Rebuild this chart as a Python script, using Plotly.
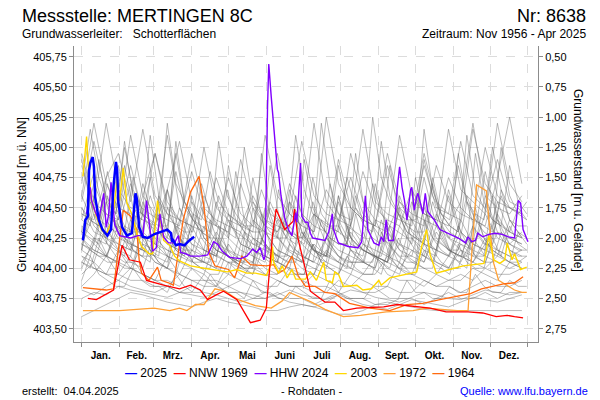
import plotly.graph_objects as go

# ---------------- data (day of year, water level m ü. NN) ----------------
MONTHS = ["Jan.", "Feb.", "Mrz.", "Apr.", "Mai", "Juni", "Juli", "Aug.", "Sept.", "Okt.", "Nov.", "Dez."]
MONTH_START = [0, 31, 59, 90, 120, 151, 181, 212, 243, 273, 304, 334, 365]
MONTH_MID = [15.5, 45, 74.5, 105, 135.5, 166, 196.5, 227.5, 258, 288.5, 319, 349.5]
GROUND = 406.25  # ground level, m ü. NN
Y_TICKS = [403.50, 403.75, 404.00, 404.25, 404.50, 404.75, 405.00, 405.25, 405.50, 405.75]
Y2_TICKS = [0.50, 0.75, 1.00, 1.25, 1.50, 1.75, 2.00, 2.25, 2.50, 2.75]

gray_days = [0, 10, 20, 30, 40, 50, 60, 70, 80, 90, 100, 110, 120, 130, 140, 150, 160, 170, 180,
             190, 200, 210, 220, 230, 240, 250, 260, 270, 280, 290, 300, 310, 320, 330, 340, 350, 360]

gray_years = [
    [404.55, 405.05, 404.60, 404.40, 404.85, 404.45, 404.35, 405.10, 404.50, 404.30, 404.60, 404.35, 404.25, 404.70, 404.40, 404.30, 404.95, 404.45, 404.35, 405.20, 404.55, 404.40, 404.75, 404.45, 404.35, 404.85, 404.50, 404.40, 404.95, 404.55, 404.45, 405.05, 404.60, 404.50, 404.90, 404.55, 404.50],
    [404.85, 404.50, 405.20, 404.65, 404.50, 404.45, 404.95, 404.55, 404.40, 404.35, 405.00, 404.50, 404.40, 404.35, 404.60, 404.40, 404.30, 404.45, 405.05, 404.60, 404.45, 404.40, 404.35, 404.80, 404.50, 404.40, 404.35, 404.65, 404.45, 404.40, 405.15, 404.65, 404.55, 404.45, 405.20, 404.70, 404.55],
    [404.45, 404.40, 404.75, 404.95, 404.55, 405.15, 404.60, 404.45, 404.40, 404.80, 404.45, 404.35, 404.30, 404.90, 404.50, 404.35, 404.30, 404.55, 404.40, 404.30, 405.25, 404.70, 404.50, 404.40, 404.35, 404.95, 404.55, 404.45, 404.40, 404.35, 404.75, 404.50, 404.40, 405.00, 404.60, 404.50, 404.45],
    [404.30, 404.70, 404.45, 404.35, 404.30, 404.60, 404.95, 404.50, 404.40, 404.35, 404.30, 404.75, 404.45, 404.35, 404.30, 405.10, 404.60, 404.45, 404.35, 404.30, 404.65, 404.45, 404.40, 405.15, 404.55, 404.45, 404.40, 404.35, 404.85, 404.50, 404.45, 404.40, 405.15, 404.70, 404.55, 404.50, 404.45],
    [404.60, 405.20, 404.70, 404.50, 404.45, 404.40, 404.35, 404.65, 405.05, 404.55, 404.40, 404.35, 404.75, 404.45, 404.35, 404.30, 404.25, 404.70, 404.45, 404.35, 404.30, 404.90, 404.50, 404.40, 404.35, 404.30, 404.55, 404.40, 404.35, 404.85, 404.55, 404.45, 404.40, 404.35, 404.75, 405.25, 404.70],
    [404.95, 404.55, 404.45, 404.40, 405.10, 404.60, 404.45, 404.40, 404.35, 404.95, 404.50, 404.40, 404.35, 404.30, 404.55, 404.40, 404.35, 404.30, 404.25, 404.45, 404.35, 404.30, 404.95, 404.55, 404.40, 404.35, 405.10, 404.60, 404.45, 404.40, 404.35, 404.55, 405.20, 404.60, 404.50, 404.45, 404.60],
    [404.20, 404.45, 404.25, 404.15, 404.10, 404.55, 404.25, 404.15, 404.10, 404.05, 404.35, 404.15, 404.10, 404.05, 404.05, 404.30, 404.15, 404.10, 404.05, 404.45, 404.20, 404.10, 404.05, 404.05, 404.40, 404.20, 404.10, 404.10, 404.05, 404.30, 404.15, 404.10, 404.35, 404.20, 404.15, 404.10, 404.15],
    [404.35, 404.25, 404.20, 404.65, 404.30, 404.20, 404.15, 404.10, 404.50, 404.25, 404.15, 404.10, 404.45, 404.20, 404.15, 404.10, 404.05, 404.35, 404.20, 404.10, 404.05, 404.60, 404.25, 404.15, 404.10, 404.05, 404.20, 404.55, 404.25, 404.15, 404.10, 404.40, 404.20, 404.15, 404.55, 404.30, 404.25],
    [404.10, 404.05, 404.35, 404.15, 404.05, 404.00, 404.30, 404.10, 404.05, 404.00, 403.95, 404.25, 404.10, 404.00, 403.95, 404.20, 404.05, 404.00, 403.95, 403.95, 404.15, 404.05, 404.00, 404.30, 404.10, 404.00, 403.95, 404.25, 404.10, 404.05, 404.00, 404.20, 404.10, 404.05, 404.30, 404.15, 404.10],
    [404.50, 404.30, 404.25, 404.20, 404.15, 404.70, 404.35, 404.20, 404.15, 404.10, 404.05, 404.55, 404.25, 404.15, 404.10, 404.05, 404.40, 404.20, 404.10, 404.05, 404.00, 404.35, 404.15, 404.10, 404.70, 404.30, 404.20, 404.15, 404.10, 404.45, 404.25, 404.15, 404.10, 404.60, 404.30, 404.25, 404.20],
    [404.15, 404.60, 404.30, 404.20, 404.15, 404.10, 404.45, 404.20, 404.15, 404.60, 404.25, 404.15, 404.10, 404.05, 404.40, 404.20, 404.10, 404.65, 404.30, 404.15, 404.10, 404.05, 404.30, 404.15, 404.10, 404.05, 404.50, 404.25, 404.15, 404.10, 404.65, 404.30, 404.20, 404.15, 404.10, 404.40, 404.25],
    [404.25, 404.15, 404.10, 404.30, 404.15, 404.45, 404.20, 404.10, 404.05, 404.35, 404.15, 404.10, 404.05, 404.00, 404.25, 404.10, 404.05, 404.00, 404.40, 404.15, 404.05, 404.00, 403.95, 404.20, 404.10, 404.05, 404.00, 404.15, 404.05, 404.35, 404.15, 404.10, 404.05, 404.25, 404.15, 404.10, 404.05],
    [404.40, 404.80, 404.40, 404.25, 404.20, 404.15, 404.10, 404.50, 404.25, 404.15, 404.10, 404.05, 404.85, 404.35, 404.20, 404.15, 404.10, 404.05, 404.30, 404.15, 404.10, 404.55, 404.25, 404.15, 404.10, 404.05, 404.35, 404.20, 404.75, 404.35, 404.25, 404.20, 404.15, 404.45, 404.25, 404.20, 404.30],
    [404.05, 404.20, 404.10, 404.05, 404.40, 404.15, 404.05, 404.00, 404.25, 404.10, 404.05, 404.00, 403.95, 404.30, 404.10, 404.00, 403.95, 404.20, 404.05, 404.00, 403.95, 403.95, 404.15, 404.05, 404.00, 404.35, 404.15, 404.05, 404.00, 403.95, 404.10, 404.05, 404.25, 404.10, 404.05, 404.00, 404.05],
    [404.30, 404.20, 404.55, 404.30, 404.20, 404.15, 404.10, 404.05, 404.40, 404.20, 404.10, 404.30, 404.15, 404.10, 404.05, 404.50, 404.25, 404.15, 404.10, 404.05, 404.25, 404.15, 404.10, 404.05, 404.00, 404.30, 404.15, 404.10, 404.50, 404.25, 404.15, 404.10, 404.05, 404.20, 404.45, 404.25, 404.20],
    [404.60, 404.35, 404.25, 404.85, 404.40, 404.25, 404.20, 404.65, 404.30, 404.20, 404.15, 404.10, 404.40, 404.20, 404.15, 404.10, 404.05, 404.55, 404.25, 404.15, 404.10, 404.40, 404.20, 404.15, 404.10, 404.05, 404.60, 404.30, 404.20, 404.15, 404.10, 404.30, 404.20, 404.80, 404.40, 404.30, 404.25],
    [404.00, 404.25, 404.10, 404.05, 404.00, 404.20, 404.05, 404.00, 403.95, 404.15, 404.05, 404.00, 404.20, 404.05, 404.00, 403.95, 403.95, 404.10, 404.00, 403.95, 404.25, 404.10, 404.00, 403.95, 403.95, 404.10, 404.00, 403.95, 404.20, 404.05, 404.00, 404.15, 404.05, 404.00, 404.10, 404.05, 404.00],
    [404.20, 404.15, 404.10, 404.35, 404.70, 404.30, 404.20, 404.15, 404.10, 404.55, 404.25, 404.15, 404.10, 404.05, 404.75, 404.30, 404.15, 404.10, 404.05, 404.20, 404.10, 404.85, 404.35, 404.20, 404.15, 404.10, 404.05, 404.40, 404.20, 404.15, 404.60, 404.25, 404.15, 404.10, 404.40, 404.20, 404.15],
    [403.95, 404.05, 403.95, 403.90, 404.00, 403.95, 403.90, 403.85, 403.95, 403.90, 403.85, 403.85, 403.95, 403.90, 403.85, 403.80, 403.90, 403.85, 403.85, 403.80, 403.80, 403.90, 403.85, 403.80, 403.80, 403.85, 403.80, 403.80, 403.90, 403.85, 403.85, 403.80, 403.85, 403.90, 403.85, 403.85, 403.90],
    [404.05, 404.00, 403.95, 404.15, 404.00, 403.95, 403.90, 404.10, 403.95, 403.90, 403.90, 403.85, 404.05, 403.95, 403.90, 403.85, 403.85, 404.00, 403.90, 403.85, 403.85, 403.80, 403.95, 403.90, 403.85, 403.85, 404.05, 403.95, 403.90, 403.85, 403.90, 403.95, 403.90, 404.00, 403.95, 403.95, 404.00],
    [403.85, 403.95, 404.10, 403.95, 403.90, 403.90, 403.85, 403.85, 403.80, 403.80, 403.95, 403.85, 403.80, 403.80, 403.75, 403.75, 403.80, 403.75, 403.75, 403.70, 403.75, 403.80, 403.75, 403.75, 403.70, 403.70, 403.75, 403.75, 403.70, 403.75, 403.80, 403.75, 403.75, 403.80, 403.75, 403.80, 403.80],
    [404.10, 404.00, 403.95, 403.95, 404.10, 403.95, 403.90, 403.90, 403.85, 404.00, 403.90, 403.90, 403.85, 403.90, 404.05, 403.95, 403.90, 403.85, 403.85, 403.95, 403.90, 403.85, 403.85, 403.95, 404.10, 403.95, 403.90, 403.90, 403.85, 403.95, 403.90, 403.90, 404.00, 403.95, 403.90, 404.05, 404.00],
    [403.60, 403.65, 403.70, 403.75, 403.80, 403.78, 403.75, 403.72, 403.70, 403.68, 403.72, 403.75, 403.72, 403.70, 403.68, 403.65, 403.65, 403.68, 403.70, 403.68, 403.65, 403.62, 403.62, 403.65, 403.70, 403.72, 403.70, 403.68, 403.66, 403.65, 403.65, 403.65, 403.65, 403.65, 403.65, 403.65, 403.65],
    [403.75, 403.80, 403.78, 403.85, 403.82, 403.80, 403.78, 403.76, 403.80, 403.85, 403.80, 403.78, 403.75, 403.72, 403.75, 403.80, 403.76, 403.72, 403.70, 403.68, 403.72, 403.78, 403.74, 403.70, 403.68, 403.66, 403.70, 403.74, 403.72, 403.70, 403.68, 403.72, 403.76, 403.74, 403.72, 403.75, 403.78],
    [403.82, 403.78, 403.85, 403.90, 403.85, 403.82, 403.80, 403.85, 403.80, 403.78, 403.76, 403.80, 403.85, 403.80, 403.78, 403.75, 403.78, 403.82, 403.78, 403.76, 403.74, 403.78, 403.82, 403.80, 403.76, 403.74, 403.72, 403.76, 403.80, 403.78, 403.75, 403.74, 403.78, 403.82, 403.80, 403.78, 403.80],
]

gray_week_days = [0, 7, 14, 21, 28, 35, 42, 49, 56, 63, 70, 77, 84, 91, 98, 105, 112, 119, 126, 133, 140, 147, 154, 161, 168, 175,
                  182, 189, 196, 203, 210, 217, 224, 231, 238, 245, 252, 259, 266, 273, 280, 287, 294, 301, 308, 315, 322, 329, 336, 343, 350, 357, 364]

gray_weekly_years = [
    [404.40, 404.35, 404.90, 404.50, 404.35, 404.30, 404.75, 404.45, 404.35, 404.30, 404.25, 405.05, 404.55, 404.40, 404.30, 404.25, 404.60, 404.40, 404.30, 404.25, 404.20, 404.20, 404.85, 404.45, 404.30, 404.25, 404.20, 404.55, 404.35, 404.25, 404.20, 404.20, 404.95, 404.50, 404.35, 404.25, 404.20, 404.45, 404.30, 404.25, 404.20, 404.70, 404.40, 404.30, 404.25, 404.20, 404.95, 404.55, 404.40, 404.35, 404.30, 404.50, 404.40],
    [404.15, 404.55, 404.30, 404.20, 404.15, 404.10, 404.45, 404.25, 404.15, 404.10, 404.65, 404.30, 404.20, 404.10, 404.05, 404.05, 404.35, 404.15, 404.10, 404.05, 404.50, 404.25, 404.15, 404.10, 404.05, 404.05, 404.30, 404.15, 404.10, 404.70, 404.35, 404.20, 404.10, 404.05, 404.05, 404.40, 404.20, 404.10, 404.05, 404.05, 404.55, 404.25, 404.15, 404.10, 404.35, 404.20, 404.10, 404.10, 404.60, 404.30, 404.20, 404.15, 404.15],
    [404.70, 405.15, 404.75, 404.55, 404.45, 405.00, 404.65, 404.50, 404.45, 404.40, 405.20, 404.70, 404.55, 404.45, 404.40, 404.80, 404.55, 404.45, 404.40, 404.35, 404.35, 404.65, 404.45, 404.40, 404.35, 405.10, 404.65, 404.45, 404.40, 404.35, 404.35, 404.75, 404.50, 404.40, 405.25, 404.75, 404.55, 404.45, 404.40, 404.40, 404.90, 404.60, 404.45, 404.40, 404.85, 404.55, 404.45, 404.40, 405.00, 404.65, 404.50, 404.45, 404.55],
    [404.30, 404.25, 404.20, 404.60, 404.35, 404.25, 404.20, 404.15, 404.75, 404.40, 404.25, 404.20, 404.15, 404.15, 404.50, 404.30, 404.20, 404.15, 404.80, 404.40, 404.25, 404.20, 404.15, 404.10, 404.10, 404.45, 404.25, 404.15, 404.10, 404.10, 404.60, 404.30, 404.20, 404.15, 404.10, 404.10, 404.35, 404.20, 404.15, 404.75, 404.40, 404.25, 404.20, 404.15, 404.15, 404.55, 404.30, 404.20, 404.20, 404.65, 404.40, 404.30, 404.25],
    [404.05, 404.00, 404.25, 404.10, 404.05, 404.00, 404.00, 404.30, 404.15, 404.05, 404.00, 403.95, 404.20, 404.05, 404.00, 403.95, 403.95, 404.15, 404.05, 404.00, 403.95, 404.25, 404.10, 404.00, 403.95, 403.95, 403.95, 404.20, 404.05, 404.00, 403.95, 404.10, 404.00, 403.95, 403.95, 404.30, 404.10, 404.00, 403.95, 403.95, 404.15, 404.05, 404.00, 403.95, 404.20, 404.05, 404.00, 404.00, 404.25, 404.10, 404.05, 404.05, 404.10],
    [404.90, 404.55, 404.40, 404.35, 404.30, 404.85, 404.50, 404.40, 405.10, 404.60, 404.45, 404.35, 404.30, 404.30, 404.70, 404.45, 404.35, 404.30, 404.25, 405.00, 404.55, 404.40, 404.30, 404.25, 404.25, 404.60, 404.40, 404.30, 405.20, 404.70, 404.45, 404.35, 404.30, 404.25, 404.70, 404.45, 404.35, 404.30, 404.25, 404.25, 405.15, 404.65, 404.45, 404.35, 404.30, 404.60, 404.40, 404.35, 404.30, 405.00, 404.60, 404.45, 404.40],
    [404.20, 404.15, 404.10, 404.10, 404.40, 404.25, 404.15, 404.10, 404.10, 404.55, 404.30, 404.15, 404.10, 404.45, 404.25, 404.15, 404.10, 404.05, 404.05, 404.30, 404.15, 404.10, 404.05, 404.65, 404.30, 404.15, 404.10, 404.05, 404.40, 404.20, 404.10, 404.05, 404.05, 404.05, 404.35, 404.15, 404.10, 404.50, 404.25, 404.15, 404.10, 404.05, 404.30, 404.15, 404.10, 404.10, 404.45, 404.25, 404.15, 404.10, 404.35, 404.20, 404.15],
    [404.50, 404.40, 404.35, 404.80, 404.50, 404.35, 404.30, 404.30, 404.60, 404.40, 404.30, 404.95, 404.55, 404.40, 404.30, 404.25, 404.25, 404.65, 404.40, 404.30, 404.25, 404.20, 404.50, 404.35, 404.25, 404.20, 404.90, 404.50, 404.35, 404.25, 404.20, 404.20, 404.60, 404.35, 404.25, 404.20, 404.85, 404.45, 404.30, 404.25, 404.20, 404.55, 404.35, 404.25, 404.95, 404.55, 404.40, 404.30, 404.25, 404.60, 404.40, 404.35, 404.35],
    [403.90, 404.10, 403.95, 403.90, 403.85, 403.85, 404.00, 403.90, 403.85, 403.85, 403.80, 403.95, 403.85, 403.80, 403.80, 403.95, 403.85, 403.80, 403.80, 403.75, 403.90, 403.80, 403.80, 403.75, 403.75, 403.85, 403.80, 403.75, 403.75, 403.90, 403.80, 403.75, 403.75, 403.75, 403.85, 403.80, 403.75, 403.75, 403.90, 403.80, 403.80, 403.75, 403.75, 403.85, 403.80, 403.80, 403.95, 403.85, 403.80, 403.80, 403.90, 403.85, 403.85],
    [404.25, 404.15, 404.10, 404.05, 404.05, 404.35, 404.15, 404.10, 404.05, 404.60, 404.30, 404.15, 404.10, 404.05, 404.05, 404.40, 404.20, 404.10, 404.05, 404.00, 404.00, 404.95, 404.45, 404.25, 404.15, 404.10, 404.05, 404.30, 404.15, 404.10, 404.05, 404.00, 404.45, 404.20, 404.10, 404.05, 404.00, 404.25, 404.10, 404.05, 404.00, 404.00, 404.35, 404.15, 404.05, 404.00, 404.50, 404.25, 404.15, 404.10, 404.05, 404.30, 404.20],
    [404.45, 404.40, 404.35, 404.70, 404.45, 405.05, 404.60, 404.45, 404.40, 404.35, 404.35, 404.80, 404.50, 404.40, 404.35, 404.30, 405.05, 404.60, 404.45, 404.35, 404.30, 404.30, 404.55, 404.40, 404.30, 404.25, 404.25, 404.75, 404.45, 404.35, 404.30, 404.25, 404.50, 404.35, 404.30, 405.05, 404.60, 404.45, 404.35, 404.30, 404.30, 404.75, 404.45, 404.35, 404.30, 405.10, 404.65, 404.50, 404.40, 404.35, 404.85, 404.55, 404.45],
    [404.15, 404.10, 404.40, 404.20, 404.10, 404.05, 404.05, 404.30, 404.15, 404.05, 404.00, 404.35, 404.15, 404.05, 404.00, 404.00, 404.25, 404.10, 404.05, 404.00, 404.00, 404.45, 404.20, 404.05, 404.00, 403.95, 403.95, 404.20, 404.05, 404.00, 403.95, 404.35, 404.15, 404.05, 404.00, 403.95, 404.20, 404.05, 404.00, 404.00, 404.40, 404.15, 404.05, 404.00, 404.00, 404.25, 404.10, 404.05, 404.05, 404.30, 404.15, 404.10, 404.10],
]

days_2025 = [1, 3, 5, 6, 7, 9, 10, 11, 14, 17, 21, 24, 26, 28, 29, 30, 33, 37, 41, 44, 45, 47, 50, 54, 59, 65, 70, 73, 74, 75, 77, 80, 84, 88, 92]
vals_2025 = [404.23, 404.40, 404.43, 404.81, 404.87, 404.92, 404.84, 404.59, 404.40, 404.32, 404.27, 404.32, 404.68, 404.88, 404.81, 404.54, 404.34, 404.27, 404.29, 404.62, 404.58, 404.34, 404.26, 404.25, 404.28, 404.30, 404.32, 404.29, 404.22, 404.23, 404.19, 404.20, 404.19, 404.23, 404.26]

days_1969 = [5, 12, 26, 33, 39, 48, 53, 67, 80, 89, 97, 103, 110, 116, 127, 138, 146, 151, 156, 159, 166, 173, 174, 177, 183, 187, 199, 207, 214, 225, 247, 258, 285, 298, 316, 328, 339, 348, 354, 361]
vals_1969 = [403.75, 403.74, 403.82, 404.19, 404.07, 404.05, 403.90, 403.86, 403.83, 403.86, 403.82, 403.74, 403.78, 403.81, 403.74, 403.55, 403.57, 403.67, 404.27, 404.49, 404.32, 404.39, 404.49, 404.24, 403.99, 403.81, 403.72, 403.72, 403.65, 403.67, 403.68, 403.70, 403.67, 403.64, 403.64, 403.63, 403.60, 403.61, 403.60, 403.59]

days_2024 = [4, 7, 8, 11, 14, 18, 20, 22, 24, 25, 27, 31, 40, 46, 50, 53, 56, 58, 61, 64, 67, 71, 76, 79, 81, 85, 89, 97, 103, 108, 111, 115, 121, 130, 135, 140, 143, 146, 149, 150,
             152, 153, 155, 157, 160, 161, 163, 166, 169, 172, 175, 176, 179, 180, 183, 185, 187, 189, 194, 199, 202, 205, 206, 210, 218, 226, 229, 232, 234, 239, 243, 245, 247, 249,
             251, 255, 258, 260, 262, 264, 266, 269, 270, 272, 274, 275, 278, 279, 281, 283, 286, 289, 293, 297, 303, 308, 314, 316, 319, 322, 324, 328, 333, 338, 344, 349, 354, 357, 359, 361, 365]
vals_2024 = [404.45, 404.67, 404.56, 404.47, 404.40, 404.62, 404.34, 404.44, 404.71, 404.60, 404.36, 404.27, 404.25, 404.27, 404.27, 404.56, 404.29, 404.14, 404.17, 404.45, 404.26, 404.21, 404.21, 404.27, 404.13, 404.12, 404.10, 404.10, 404.11, 404.22, 404.20, 404.14, 404.09, 404.08, 404.10, 404.16, 404.13, 404.17, 404.07, 404.10,
             405.34, 405.69, 405.42, 405.20, 404.82, 404.79, 404.60, 404.42, 404.32, 404.27, 404.46, 404.38, 404.87, 404.43, 404.38, 404.38, 404.29, 404.25, 404.24, 404.23, 404.30, 404.45, 404.32, 404.21, 404.18, 404.17, 404.22, 404.60, 404.32, 404.21, 404.19, 404.26, 404.22, 404.40,
             404.23, 404.23, 404.65, 404.84, 404.67, 404.56, 404.40, 404.65, 404.67, 404.48, 404.59, 404.62, 404.50, 404.45, 404.62, 404.47, 404.43, 404.39, 404.32, 404.30, 404.27, 404.25, 404.21, 404.26, 404.22, 404.23, 404.29, 404.26, 404.28, 404.29, 404.28, 404.26, 404.25, 404.56, 404.54, 404.32, 404.22]

days_2003 = [1, 4, 5, 8, 12, 16, 20, 25, 29, 31, 34, 37, 41, 45, 49, 55, 58, 62, 64, 67, 72, 76, 80, 89, 100, 108, 119, 127, 135, 142, 151, 155, 156, 157, 161, 164, 168, 172, 175, 183, 187, 192,
             198, 200, 205, 207, 210, 214, 225, 230, 237, 243, 245, 252, 266, 274, 278, 282, 285, 290, 301, 312, 329, 333, 337, 342, 346, 348, 352, 354, 359, 364]
vals_2003 = [404.76, 405.09, 404.90, 404.56, 404.43, 404.32, 404.28, 404.40, 404.73, 404.56, 404.83, 404.54, 404.45, 404.29, 404.18, 404.12, 404.12, 404.56, 404.43, 404.23, 404.19, 404.10, 404.06, 404.02, 404.00, 403.99, 403.97, 403.99, 403.96, 403.96, 403.94, 404.04, 404.18, 404.05, 403.96, 404.02, 403.92, 403.99, 403.91, 403.91, 403.97, 403.90,
             404.05, 403.90, 403.88, 403.97, 403.95, 403.85, 403.86, 403.82, 403.83, 403.90, 403.86, 403.92, 403.95, 403.97, 404.18, 404.32, 404.11, 403.96, 403.99, 404.02, 404.04, 404.27, 404.07, 404.04, 404.07, 404.21, 404.07, 404.12, 403.99, 404.01]

days_1972 = [1, 31, 59, 72, 80, 86, 93, 100, 109, 117, 128, 142, 155, 164, 170, 177, 188, 199, 214, 228, 249, 271, 282, 307, 316, 319, 323, 331, 333, 337, 341, 346, 354, 360, 364]
vals_1972 = [403.65, 403.65, 403.67, 403.65, 403.67, 403.65, 403.70, 403.70, 403.83, 403.81, 403.74, 403.69, 403.67, 403.73, 403.80, 403.77, 403.72, 403.66, 403.60, 403.61, 403.64, 403.65, 403.67, 403.65, 403.65, 404.12, 404.69, 404.64, 404.40, 404.04, 403.90, 403.87, 403.82, 403.80, 403.80]

days_1964 = [1, 12, 20, 26, 34, 40, 45, 47, 49, 55, 62, 65, 71, 75, 79, 83, 89, 96, 100, 104, 109, 120, 125, 131, 138, 151, 157, 161, 166, 172, 177, 183, 191, 199, 207, 219, 236, 252, 266, 279, 293, 307, 318, 327, 345, 354, 361]
vals_1964 = [403.84, 403.83, 403.82, 403.83, 404.48, 404.43, 404.32, 404.07, 403.96, 403.90, 404.01, 403.90, 403.88, 403.86, 404.12, 404.40, 404.63, 404.76, 404.51, 404.13, 404.02, 403.99, 403.92, 404.10, 404.03, 404.02, 404.03, 403.96, 403.99, 404.10, 403.94, 403.85, 403.85, 403.80, 403.79, 403.71, 403.67, 403.65, 403.70, 403.71, 403.74, 403.77, 403.79, 403.83, 403.87, 403.88, 403.93]

highlights = [
    ("1972", days_1972, vals_1972, "#ffa035", 1.3),
    ("1964", days_1964, vals_1964, "#ff6a10", 1.3),
    ("2003", days_2003, vals_2003, "#ffd800", 1.4),
    ("NNW 1969", days_1969, vals_1969, "#ff0000", 1.3),
    ("HHW 2024", days_2024, vals_2024, "#8000ff", 1.4),
    ("2025", days_2025, vals_2025, "#0000ff", 2.5),
]
legend_items = [("2025", "#0000ff"), ("NNW 1969", "#ff0000"), ("HHW 2024", "#8000ff"),
                ("2003", "#ffd800"), ("1972", "#ffa035"), ("1964", "#ff6a10")]

# ---------------- figure ----------------
FONT = "Liberation Sans, Arial, sans-serif"
L, R, T, B = 74, 62, 46, 58
W, H = 600, 400
PW, PH = W - L - R, H - T - B


def px(x):
    return (x - L) / PW


def py(y):
    return (H - B - y) / PH


Y_RANGE = [403.390, 405.8385]
GRAY = "rgba(105,105,105,0.45)"

fig = go.Figure()
for vals in gray_years:
    fig.add_trace(go.Scatter(x=gray_days[:len(vals)], y=vals, mode="lines", showlegend=False, hoverinfo="skip",
                             line=dict(color=GRAY, width=1)))
for vals in gray_weekly_years:
    fig.add_trace(go.Scatter(x=gray_week_days[:len(vals)], y=vals, mode="lines", showlegend=False, hoverinfo="skip",
                             line=dict(color=GRAY, width=1)))
for name, d, v, c, w in highlights:
    fig.add_trace(go.Scatter(x=d, y=v, mode="lines", name=name, showlegend=False,
                             line=dict(color=c, width=w)))
# carrier for the right-hand (depth below ground) axis
fig.add_trace(go.Scatter(x=[days_2025[0]], y=[GROUND - vals_2025[0]], yaxis="y2", mode="markers",
                         marker=dict(opacity=0), showlegend=False, hoverinfo="skip"))

legend_text = "  ".join(
    ('<span style="color:%s;font-weight:bold">—</span> %s' % (c, n)) for n, c in legend_items)

annots = [
    dict(text="Messstelle: MERTINGEN 8C", x=px(20), y=py(16), xanchor="left", yanchor="middle", font=dict(size=18)),
    dict(text="Nr: 8638", x=px(588), y=py(16), xanchor="right", yanchor="middle", font=dict(size=18)),
    dict(text="Grundwasserleiter:   Schotterflächen", x=px(20), y=py(34), xanchor="left", yanchor="middle", font=dict(size=12)),
    dict(text="Zeitraum: Nov 1956 - Apr 2025", x=px(588), y=py(34), xanchor="right", yanchor="middle", font=dict(size=12)),
    dict(text="Grundwasserstand [m ü. NN]", x=px(22), y=py(195), textangle=-90, xanchor="center", yanchor="middle", font=dict(size=12)),
    dict(text="Grundwasserstand [m u. Gelände]", x=px(578), y=py(180), textangle=90, xanchor="center", yanchor="middle", font=dict(size=12)),
    dict(text=legend_text, x=px(300), y=py(373), xanchor="center", yanchor="middle", font=dict(size=12)),
    dict(text="erstellt:  04.04.2025", x=px(20), y=py(391), xanchor="left", yanchor="middle", font=dict(size=11)),
    dict(text="- Rohdaten -", x=px(311), y=py(391), xanchor="center", yanchor="middle", font=dict(size=11)),
    dict(text="Quelle: www.lfu.bayern.de", x=px(590), y=py(391), xanchor="right", yanchor="middle", font=dict(size=11, color="#0000ff")),
]
for a in annots:
    a.update(xref="paper", yref="paper", showarrow=False)
    a["font"].setdefault("color", "#000000")
    a["font"]["family"] = FONT

fig.update_layout(
    width=W, height=H, autosize=False,
    margin=dict(l=L, r=R, t=T, b=B, pad=0),
    paper_bgcolor="white", plot_bgcolor="white",
    separators=",.",
    font=dict(family=FONT, size=11, color="#000000"),
    showlegend=False,
    annotations=annots,
    xaxis=dict(range=[-6.3, 373.2], tickmode="array", tickvals=MONTH_MID, ticktext=MONTHS,
               ticks="", showgrid=False, zeroline=False, showline=True, linecolor="#8c8c8c", linewidth=1,
               tickfont=dict(size=10, family=FONT, color="#000000", weight="bold"), ticklabelstandoff=4,
               minor=dict(tickmode="array", tickvals=MONTH_START, ticks="outside", ticklen=4, tickcolor="#8c8c8c",
                          showgrid=True, gridcolor="#dcdcdc", griddash="dash", gridwidth=1)),
    yaxis=dict(range=Y_RANGE, tickmode="array", tickvals=Y_TICKS, tickformat=".2f",
               ticks="outside", ticklen=4, tickcolor="#8c8c8c", showline=True, linecolor="#8c8c8c",
               showgrid=True, gridcolor="#dcdcdc", griddash="dash", zeroline=False,
               tickfont=dict(size=11)),
    yaxis2=dict(range=[GROUND - Y_RANGE[0], GROUND - Y_RANGE[1]], overlaying="y", side="right",
                tickmode="array", tickvals=Y2_TICKS, tickformat=".2f", ticks="outside", ticklen=4,
                tickcolor="#8c8c8c", showline=True, linecolor="#8c8c8c", showgrid=False, zeroline=False,
                tickfont=dict(size=11)),
)

fig.write_html("out.html")
